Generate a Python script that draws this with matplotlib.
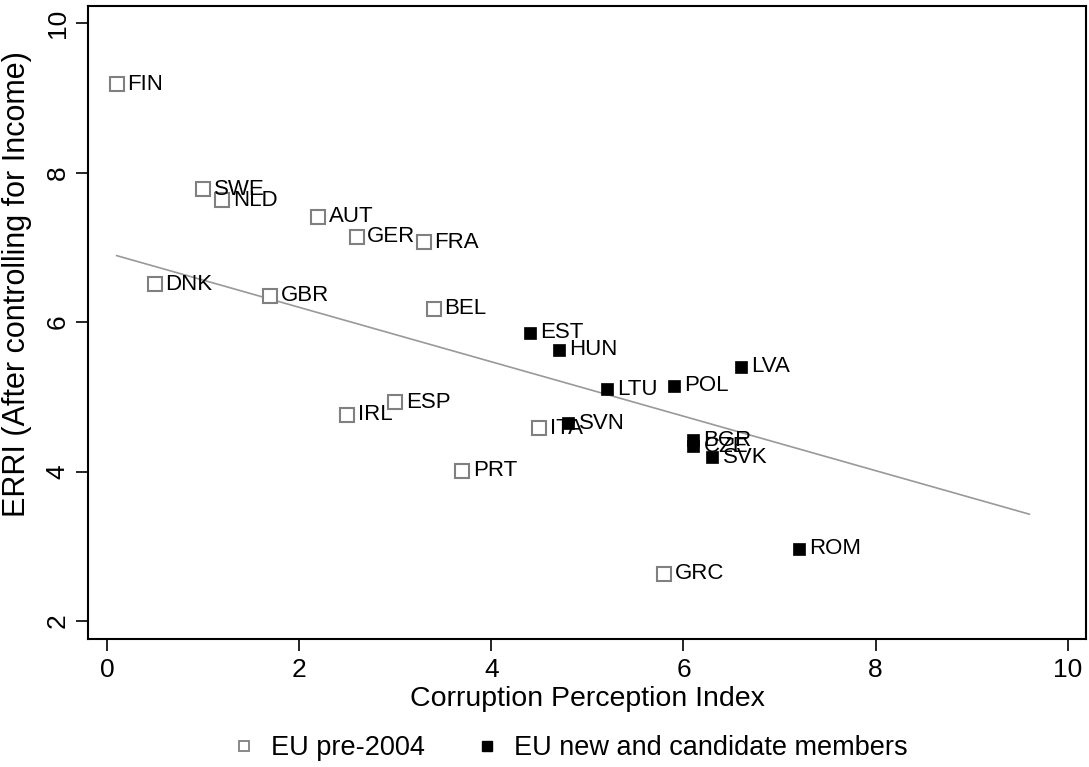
import matplotlib
matplotlib.use("Agg")
import matplotlib.pyplot as plt
from matplotlib.lines import Line2D

plt.rcParams['font.family'] = ['Liberation Sans', 'DejaVu Sans']

# EU pre-2004 members
old_names = ["FIN", "SWE", "NLD", "AUT", "GER", "FRA", "DNK", "GBR", "BEL",
             "ESP", "IRL", "ITA", "PRT", "GRC"]
old_cpi = [0.1, 1.0, 1.2, 2.2, 2.6, 3.3, 0.5, 1.7, 3.4, 3.0, 2.5, 4.5, 3.7, 5.8]
old_erri = [9.18, 7.78, 7.63, 7.41, 7.14, 7.07, 6.51, 6.35, 6.18, 4.93, 4.76,
            4.58, 4.01, 2.63]

# EU new and candidate members
new_names = ["EST", "HUN", "LVA", "LTU", "POL", "SVN", "BGR", "CZE", "SVK", "ROM"]
new_cpi = [4.4, 4.7, 6.6, 5.2, 5.9, 4.8, 6.1, 6.1, 6.3, 7.2]
new_erri = [5.86, 5.63, 5.40, 5.10, 5.15, 4.65, 4.42, 4.34, 4.19, 2.97]

# fitted line end points
fit_x = [0.1, 9.6]
fit_y = [6.89, 3.43]

W, H = 1089, 767
fig = plt.figure(figsize=(W / 100, H / 100), dpi=100)
ax = fig.add_axes([88.3 / W, 1 - 639 / H, (1086 - 88.3) / W, (639 - 6) / H])

ax.plot(fit_x, fit_y, color="#999999", lw=1.2, zorder=1)
ax.plot(old_cpi, old_erri, "s", ms=9.5, mfc="white", mec="#808080", mew=1.5,
        ls="none", zorder=2)
ax.plot(new_cpi, new_erri, "s", ms=8, mfc="black", mec="black", mew=0.5,
        ls="none", zorder=2)

for n, x, y in zip(old_names + new_names, old_cpi + new_cpi, old_erri + new_erri):
    ax.annotate(n, (x, y), xytext=(7.5, 0), textcoords="offset points",
                va="center", ha="left", fontsize=16, color="black", zorder=3)

ax.set_xlim(-0.195, 10.19)
ax.set_ylim(1.76, 10.23)
ax.set_xticks([0, 2, 4, 6, 8, 10])
ax.set_yticks([2, 4, 6, 8, 10])
for lab in ax.get_yticklabels():
    lab.set_rotation(90)
    lab.set_va("center")
ax.tick_params(axis="both", direction="out", length=8.5, width=1.2,
               labelsize=19, pad=5)
for s in ax.spines.values():
    s.set_linewidth(1.5)

ax.set_xlabel("Corruption Perception Index", fontsize=20.5, labelpad=3)
ax.set_ylabel("ERRI (After controlling for Income)", fontsize=22)
ax.yaxis.set_label_coords(-0.056, 0.56)

handles = [
    Line2D([], [], marker="s", ls="none", ms=7, mfc="white", mec="#808080", mew=1.3),
    Line2D([], [], marker="s", ls="none", ms=6.5, mfc="black", mec="black"),
]
fig.legend(handles, ["EU pre-2004", "EU new and candidate members"],
           loc="center", bbox_to_anchor=(0.525, 1 - 748 / H), ncol=2,
           frameon=False, fontsize=19.5, handlelength=0.6, handletextpad=0.7,
           columnspacing=2.0)

fig.savefig("out.png", dpi=100)
